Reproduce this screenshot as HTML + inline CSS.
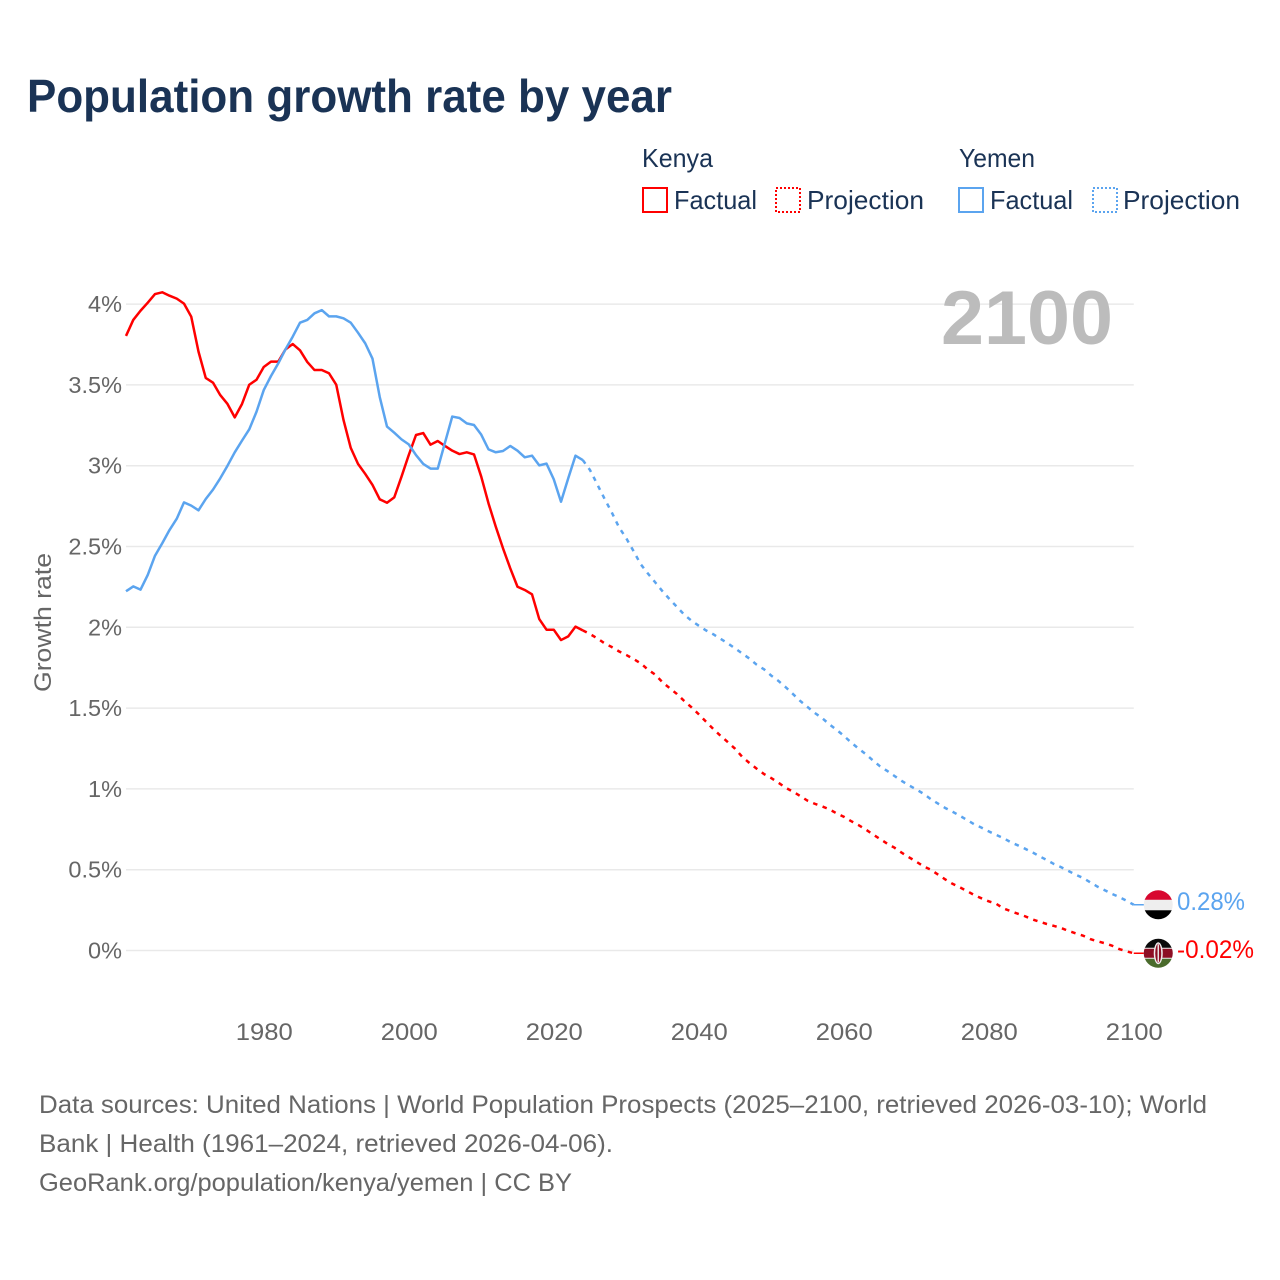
<!DOCTYPE html>
<html lang="en">
<head>
<meta charset="utf-8">
<title>Population growth rate by year</title>
<style>
html,body{margin:0;padding:0;background:#fff;}
svg{display:block;font-family:"Liberation Sans",sans-serif;}
</style>
</head>
<body>
<svg id="chart" xmlns="http://www.w3.org/2000/svg" width="1280" height="1280" viewBox="0 0 1280 1280">
  <rect x="0" y="0" width="1280" height="1280" fill="#ffffff"/>
  <text x="27" y="112" font-size="46" font-weight="700" fill="#1a3355" textLength="645" lengthAdjust="spacingAndGlyphs">Population growth rate by year</text>

  <g font-size="26" fill="#1a3355">
    <text x="642" y="167" textLength="71" lengthAdjust="spacingAndGlyphs">Kenya</text>
    <rect x="643" y="188" width="24" height="24" fill="none" stroke="#ff0000" stroke-width="2"/>
    <text x="674" y="209" textLength="83" lengthAdjust="spacingAndGlyphs">Factual</text>
    <rect x="776" y="188" width="24" height="24" fill="none" stroke="#ff0000" stroke-width="2" stroke-dasharray="2 2"/>
    <text x="807" y="209" textLength="117" lengthAdjust="spacingAndGlyphs">Projection</text>
    <text x="959" y="167" textLength="76" lengthAdjust="spacingAndGlyphs">Yemen</text>
    <rect x="959" y="188" width="24" height="24" fill="none" stroke="#5ba4ef" stroke-width="2"/>
    <text x="990" y="209" textLength="83" lengthAdjust="spacingAndGlyphs">Factual</text>
    <rect x="1093" y="188" width="24" height="24" fill="none" stroke="#5ba4ef" stroke-width="2" stroke-dasharray="2 2"/>
    <text x="1123" y="209" textLength="117" lengthAdjust="spacingAndGlyphs">Projection</text>
  </g>

  <g id="grid"></g>
  <g id="yticks"></g>
  <g id="xticks"></g>
  <text transform="translate(51,692) rotate(-90)" font-size="24" fill="#666666" textLength="139" lengthAdjust="spacingAndGlyphs">Growth rate</text>
  <text x="941" y="344" font-size="76" font-weight="700" fill="#bcbcbc" textLength="172" lengthAdjust="spacingAndGlyphs">2100</text>
  <g id="series"></g>
  <g id="endmarks"></g>

  <g font-size="25" fill="#666666">
    <text x="39" y="1113" textLength="1168" lengthAdjust="spacingAndGlyphs">Data sources: United Nations | World Population Prospects (2025–2100, retrieved 2026-03-10); World</text>
    <text x="39" y="1152" textLength="574" lengthAdjust="spacingAndGlyphs">Bank | Health (1961–2024, retrieved 2026-04-06).</text>
    <text x="39" y="1191" textLength="533" lengthAdjust="spacingAndGlyphs">GeoRank.org/population/kenya/yemen | CC BY</text>
  </g>
</svg>
<script>
const factualStartYear = 1961;
const projectionStartYear = 2024;
const xTickYears = [1980, 2000, 2020, 2040, 2060, 2080, 2100];
const yTickValues = [0, 0.5, 1, 1.5, 2, 2.5, 3, 3.5, 4];
const yTickLabels = ["0%", "0.5%", "1%", "1.5%", "2%", "2.5%", "3%", "3.5%", "4%"];

const kenyaFactual = [3.803,3.902,3.959,4.009,4.062,4.073,4.052,4.034,4.003,3.922,3.706,3.543,3.514,3.437,3.382,3.299,3.382,3.501,3.532,3.611,3.644,3.644,3.720,3.753,3.714,3.642,3.592,3.592,3.572,3.501,3.283,3.110,3.011,2.949,2.881,2.792,2.771,2.804,2.932,3.066,3.190,3.202,3.130,3.153,3.122,3.093,3.072,3.083,3.070,2.932,2.767,2.623,2.489,2.365,2.251,2.231,2.204,2.051,1.985,1.985,1.921,1.944,2.004,1.981];
const kenyaProjection = [1.981,1.958,1.932,1.901,1.878,1.851,1.829,1.804,1.777,1.738,1.707,1.660,1.623,1.587,1.544,1.505,1.462,1.416,1.371,1.329,1.290,1.249,1.198,1.160,1.125,1.092,1.067,1.038,1.007,0.983,0.956,0.927,0.908,0.892,0.874,0.849,0.828,0.801,0.777,0.750,0.719,0.690,0.661,0.636,0.605,0.577,0.550,0.521,0.500,0.470,0.440,0.413,0.391,0.368,0.343,0.323,0.304,0.290,0.261,0.244,0.228,0.212,0.193,0.178,0.164,0.152,0.139,0.121,0.106,0.092,0.071,0.057,0.045,0.030,0.009,-0.005,-0.017];
const yemenFactual = [2.223,2.253,2.233,2.324,2.443,2.520,2.602,2.672,2.773,2.753,2.724,2.794,2.852,2.922,3.000,3.083,3.155,3.225,3.334,3.468,3.555,3.633,3.720,3.799,3.885,3.902,3.943,3.963,3.924,3.924,3.912,3.885,3.823,3.757,3.662,3.425,3.242,3.204,3.163,3.132,3.066,3.011,2.982,2.982,3.143,3.304,3.295,3.262,3.252,3.192,3.101,3.083,3.091,3.122,3.093,3.052,3.062,3.002,3.013,2.916,2.777,2.922,3.062,3.035];
const yemenProjection = [3.035,2.973,2.885,2.796,2.711,2.619,2.551,2.472,2.390,2.332,2.278,2.223,2.173,2.126,2.078,2.041,2.010,1.981,1.957,1.929,1.901,1.870,1.838,1.806,1.768,1.740,1.701,1.668,1.629,1.587,1.544,1.507,1.470,1.439,1.400,1.366,1.329,1.288,1.251,1.216,1.177,1.140,1.111,1.080,1.049,1.022,0.997,0.970,0.937,0.909,0.882,0.859,0.834,0.808,0.781,0.760,0.737,0.716,0.696,0.671,0.651,0.630,0.608,0.583,0.560,0.535,0.515,0.492,0.469,0.449,0.422,0.395,0.373,0.350,0.331,0.308,0.283];

const SVG_NS = "http://www.w3.org/2000/svg";
const kenyaColor = "#ff0000";
const yemenColor = "#5ba4ef";

function xScale(year) { return 126 + (year - 1961) * 7.25; }
function yScale(value) { return 950.5 - value * 161.6; }
function make(tag, attrs, parent) {
  const el = document.createElementNS(SVG_NS, tag);
  for (const key in attrs) el.setAttribute(key, attrs[key]);
  parent.appendChild(el);
  return el;
}
function linePath(values, startYear) {
  return values.map(function (v, i) {
    return (i ? "L" : "M") + xScale(startYear + i).toFixed(2) + " " + yScale(v).toFixed(2);
  }).join("");
}

const gridGroup = document.getElementById("grid");
const yTickGroup = document.getElementById("yticks");
yTickValues.forEach(function (value, i) {
  const line = make("line", { x1: xScale(1961), x2: xScale(2100), y1: yScale(value), y2: yScale(value), stroke: "#e9e9e9", "stroke-width": 1.5 }, gridGroup);
  
  
  const label = make("text", { x: 122, y: yScale(value) + 8, "text-anchor": "end", "font-size": 23.5, fill: "#666666" }, yTickGroup);
  
  
  label.textContent = yTickLabels[i];
});

const xTickGroup = document.getElementById("xticks");
xTickYears.forEach(function (year) {
  const label = make("text", { x: xScale(year) + 0.5, y: 1040, "text-anchor": "middle", "font-size": 24, fill: "#666666", textLength: 57, lengthAdjust: "spacingAndGlyphs" }, xTickGroup);
  
  
  label.textContent = String(year);
});

const seriesGroup = document.getElementById("series");
const kenyaFactualLine = make("path", { d: linePath(kenyaFactual, factualStartYear), fill: "none", stroke: kenyaColor, "stroke-width": 2.5, "stroke-linejoin": "round" }, seriesGroup);


const kenyaProjectionLine = make("path", { d: linePath(kenyaProjection, projectionStartYear), fill: "none", stroke: kenyaColor, "stroke-width": 2.5, "stroke-dasharray": "4.5 5.5" }, seriesGroup);


const yemenFactualLine = make("path", { d: linePath(yemenFactual, factualStartYear), fill: "none", stroke: yemenColor, "stroke-width": 2.5, "stroke-linejoin": "round" }, seriesGroup);


const yemenProjectionLine = make("path", { d: linePath(yemenProjection, projectionStartYear), fill: "none", stroke: yemenColor, "stroke-width": 2.5, "stroke-dasharray": "4.5 5.5" }, seriesGroup);



const endGroup = document.getElementById("endmarks");
const flagX = xScale(2100) + 24.5;
const kenyaEnd = kenyaProjection[kenyaProjection.length - 1];
const yemenEnd = yemenProjection[yemenProjection.length - 1];
const kenyaY = yScale(kenyaEnd);
const yemenY = yScale(yemenEnd);

const defs = make("defs", {}, endGroup);
const yemenClip = make("clipPath", { id: "yemen-clip" }, defs);
make("circle", { cx: flagX, cy: yemenY, r: 14.5 }, yemenClip);
const kenyaClip = make("clipPath", { id: "kenya-clip" }, defs);
make("circle", { cx: flagX, cy: kenyaY, r: 14.5 }, kenyaClip);

const yemenLink = make("line", { x1: xScale(2100), x2: flagX, y1: yemenY, y2: yemenY, stroke: yemenColor, "stroke-width": 1.5 }, endGroup);


const kenyaLink = make("line", { x1: xScale(2100), x2: flagX, y1: kenyaY, y2: kenyaY, stroke: kenyaColor, "stroke-width": 1.5 }, endGroup);



const yemenFlag = make("g", { "clip-path": "url(#yemen-clip)" }, endGroup);


make("rect", { x: flagX - 15, y: yemenY - 15, width: 30, height: 30, fill: "#eeeeee" }, yemenFlag);
make("rect", { x: flagX - 15, y: yemenY - 15, width: 30, height: 10, fill: "#d8072f" }, yemenFlag);
make("rect", { x: flagX - 15, y: yemenY + 5.5, width: 30, height: 10, fill: "#000000" }, yemenFlag);

const kenyaFlag = make("g", { "clip-path": "url(#kenya-clip)" }, endGroup);


make("rect", { x: flagX - 15, y: kenyaY - 15, width: 30, height: 30, fill: "#eeeeee" }, kenyaFlag);
make("rect", { x: flagX - 15, y: kenyaY - 15, width: 30, height: 9.5, fill: "#0a0a0a" }, kenyaFlag);
make("rect", { x: flagX - 15, y: kenyaY - 4.5, width: 30, height: 9, fill: "#8c0f24" }, kenyaFlag);
make("rect", { x: flagX - 15, y: kenyaY + 5.5, width: 30, height: 10, fill: "#4a6b2c" }, kenyaFlag);
make("ellipse", { cx: flagX, cy: kenyaY, rx: 4.5, ry: 11, fill: "#eeeeee" }, kenyaFlag);
make("ellipse", { cx: flagX, cy: kenyaY, rx: 3, ry: 9.5, fill: "#8c0f24" }, kenyaFlag);
make("rect", { x: flagX - 0.7, y: kenyaY - 9, width: 1.4, height: 18, fill: "#eeeeee" }, kenyaFlag);

const yemenValue = make("text", { x: 1177, y: yemenY + 5, "font-size": 25, fill: yemenColor, textLength: 68, lengthAdjust: "spacingAndGlyphs" }, endGroup);


yemenValue.textContent = yemenEnd.toFixed(2) + "%";
const kenyaValue = make("text", { x: 1177, y: kenyaY + 5, "font-size": 25, fill: kenyaColor, textLength: 77, lengthAdjust: "spacingAndGlyphs" }, endGroup);


kenyaValue.textContent = kenyaEnd.toFixed(2) + "%";
</script>
</body>
</html>
